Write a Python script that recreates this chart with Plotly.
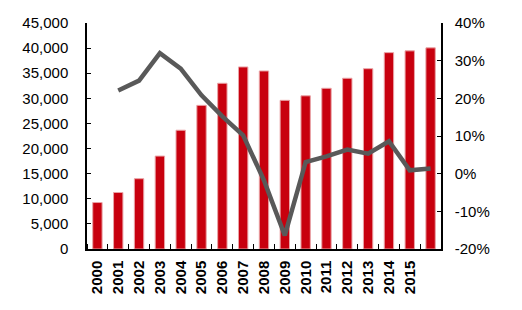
import plotly.graph_objects as go

years = list(range(2000, 2017))
tick_labels = [str(y) for y in range(2000, 2016)]
bar_values = [9250, 11250, 14000, 18500, 23650, 28600, 33000, 36250, 35450,
              29600, 30500, 32000, 34000, 35900, 39100, 39450, 40050]
growth_years = list(range(2001, 2017))
growth_pct = [22.1, 24.7, 32.0, 27.9, 20.8, 15.2, 10.2, -1.8, -16.4,
              3.1, 4.6, 6.4, 5.3, 8.6, 0.9, 1.4]

font_family = "Liberation Sans, Arial, sans-serif"

fig = go.Figure()
fig.add_trace(go.Bar(
    x=years, y=bar_values, width=0.45,
    marker=dict(color="#C8000E", line=dict(color="#E9A3A6", width=1)),
    yaxis="y", showlegend=False,
))
fig.add_trace(go.Scatter(
    x=growth_years, y=growth_pct, mode="lines",
    line=dict(color="#595959", width=4.5),
    yaxis="y2", showlegend=False,
))

fig.update_layout(
    width=522, height=310,
    margin=dict(l=87, r=81, t=23, b=61),
    paper_bgcolor="white", plot_bgcolor="white",
    font=dict(family=font_family, size=15, color="black"),
    xaxis=dict(
        range=[1999.5, 2016.5],
        tickmode="array", tickvals=list(range(2000, 2016)), ticktext=tick_labels,
        tickangle=-90, ticks="", showgrid=False, zeroline=False,
        showline=True, linecolor="black", linewidth=1.5,
        tickfont=dict(family=font_family, size=15, color="black", weight="bold"),
        minor=dict(tick0=1999.5, dtick=1, ticks="inside", ticklen=5,
                   tickcolor="black", tickwidth=1, showgrid=False),
        ticklabelstandoff=4,
    ),
    yaxis=dict(
        range=[0, 45000], tickmode="array",
        tickvals=list(range(0, 45001, 5000)),
        ticktext=[f"{v:,}" for v in range(0, 45001, 5000)],
        ticks="inside", ticklen=4, tickcolor="black",
        showline=True, linecolor="black", linewidth=1.5,
        showgrid=False, zeroline=False,
        ticklabelstandoff=14,
    ),
    yaxis2=dict(
        range=[-20, 40], overlaying="y", side="right",
        tickmode="array", tickvals=list(range(-20, 41, 10)),
        ticktext=[f"{v}%" for v in range(-20, 41, 10)],
        ticks="inside", ticklen=4, tickcolor="black",
        showline=True, linecolor="black", linewidth=1.5,
        showgrid=False, zeroline=False,
        ticklabelstandoff=9,
    ),
)

fig.write_html("out.html")
